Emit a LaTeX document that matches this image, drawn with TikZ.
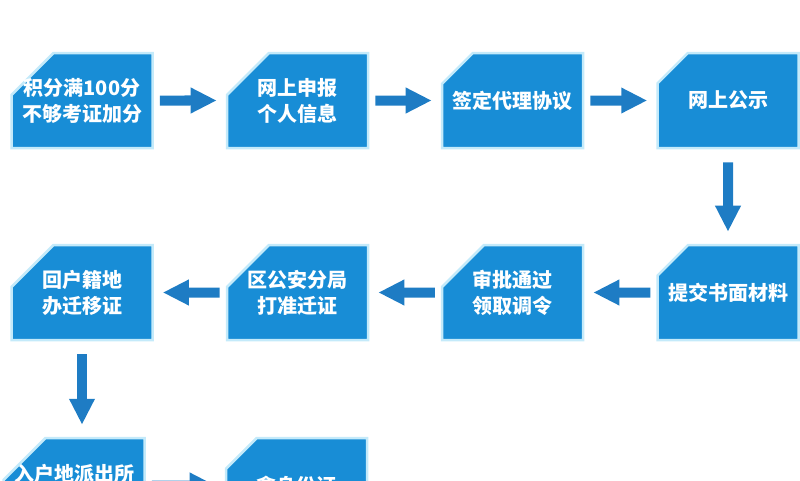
\documentclass[tikz,border=0pt]{standalone}
\usepackage{fontspec}
\newfontfamily\cjk{Noto Sans CJK SC}
\usetikzlibrary{arrows.meta, shapes.misc}
\definecolor{boxblue}{RGB}{24,141,214}
\definecolor{arrblue}{RGB}{30,124,196}
\definecolor{glow}{RGB}{196,234,250}
\newcommand\boxline[1]{\makebox[80pt]{#1}}

\begin{document}
\begin{tikzpicture}[
  x=1pt, y=-1pt,
  box/.style={chamfered rectangle, chamfered rectangle corners=north west,
              chamfered rectangle xsep=21pt, chamfered rectangle ysep=21pt,
              inner sep=0pt, minimum width=141pt, minimum height=95pt,
              fill=boxblue, draw=glow, line width=2.5pt, text=white, align=center,
              font=\cjk\bfseries\fontsize{20}{26}\selectfont},
  arr/.style={-{Triangle[length=26pt, width=24pt]}, arrblue, line width=10pt,
              shorten <=6pt, shorten >=9pt},
  varr/.style={arr, shorten <=13pt, shorten >=12pt}
]
\useasboundingbox (0,0) rectangle (800,480);
\clip (0,0) rectangle (800,480);
% first row
\node[box] (jf) at (82,100.5) {\boxline{积分满100分}\\\boxline{不够考证加分}};
\node[box] (sb) at (297.5,100.5) {\boxline{网上申报}\\\boxline{个人信息}};
\node[box] (qd) at (512.5,100.5) {\boxline{签定代理协议}};
\node[box] (gs) at (728,100.5) {\boxline{网上公示}};
% second row
\node[box] (tj) at (728,292.5) {\boxline{提交书面材料}};
\node[box] (sp) at (512.5,292.5) {\boxline{审批通过}\\\boxline{领取调令}};
\node[box] (qz) at (297.5,292.5) {\boxline{区公安分局}\\\boxline{打准迁证}};
\node[box] (hj) at (82,292.5) {\boxline{回户籍地}\\\boxline{办迁移证}};
% third row
\node[box] (pc) at (74,485.5) {\boxline{入户地派出所}\\\mbox{}};
\node[box] (sfz) at (296.5,485.5) {\boxline{拿身份证}};
\foreach \x/\y in {jf/sb,sb/qd,qd/gs,tj/sp,sp/qz,qz/hj,pc/sfz} \draw[arr] (\x) -- (\y);
\draw[varr] (gs) -- (tj);
\draw[varr] (hj.south) -- (hj.south |- pc.north);
\end{tikzpicture}
\end{document}
